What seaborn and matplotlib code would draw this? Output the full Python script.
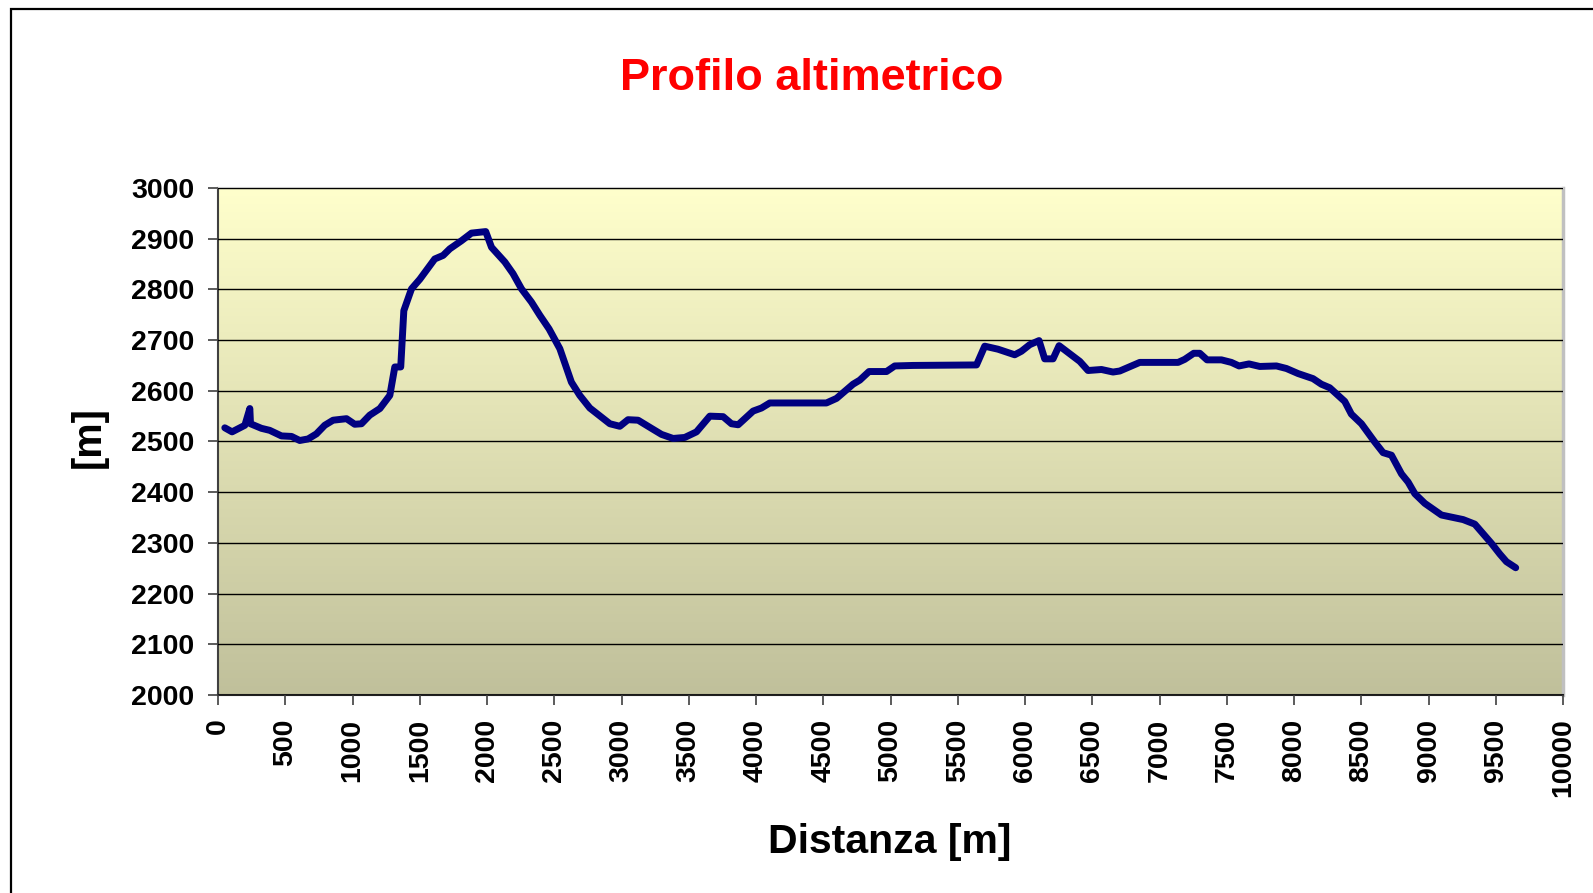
import numpy as np
import pandas as pd
import matplotlib
matplotlib.use("Agg")
import matplotlib.pyplot as plt
import seaborn as sns
from matplotlib.patches import Rectangle

# elevation profile
distanza = [50, 104, 199, 236, 241, 322, 384, 471, 546, 607, 669, 731, 793, 855, 955,
            1016, 1066, 1128, 1203, 1277, 1314, 1358, 1381, 1438, 1500, 1611, 1673, 1723,
            1810, 1884, 1990, 2033, 2132, 2193, 2256, 2330, 2392, 2461, 2541, 2627, 2689,
            2764, 2913, 2987, 3048, 3123, 3222, 3297, 3383, 3470, 3557, 3656, 3755, 3817,
            3867, 3978, 4040, 4102, 4523, 4598, 4721, 4771, 4840, 4970, 5031, 5167, 5639,
            5700, 5799, 5923, 5973, 6035, 6104, 6146, 6208, 6253, 6407, 6468, 6568, 6654,
            6704, 6853, 7138, 7187, 7254, 7299, 7353, 7460, 7534, 7591, 7665, 7745, 7869,
            7943, 8030, 8141, 8203, 8265, 8377, 8426, 8501, 8600, 8662, 8724, 8799, 8848,
            8898, 8972, 9096, 9257, 9344, 9468, 9530, 9579, 9648]
quota = [2527, 2519, 2532, 2565, 2535, 2526, 2522, 2511, 2510, 2502, 2505, 2515, 2532,
         2542, 2545, 2534, 2535, 2552, 2565, 2591, 2647, 2647, 2758, 2801, 2820, 2860,
         2867, 2880, 2896, 2911, 2914, 2883, 2854, 2831, 2801, 2775, 2749, 2722, 2683,
         2617, 2591, 2566, 2535, 2530, 2543, 2542, 2526, 2514, 2506, 2508, 2519, 2550,
         2549, 2535, 2533, 2560, 2566, 2576, 2576, 2585, 2613, 2621, 2638, 2638, 2649,
         2650, 2651, 2688, 2682, 2671, 2678, 2691, 2699, 2663, 2663, 2689, 2658, 2640,
         2642, 2637, 2639, 2656, 2656, 2662, 2674, 2674, 2661, 2661, 2656, 2649, 2653,
         2648, 2649, 2644, 2634, 2624, 2613, 2606, 2579, 2554, 2535, 2499, 2478, 2473,
         2436, 2420, 2397, 2378, 2355, 2346, 2337, 2299, 2278, 2263, 2251]

x_ticks = list(range(0, 10001, 500))
y_ticks = list(range(2000, 3001, 100))

df = pd.DataFrame({"Distanza": distanza, "Quota": quota})

sns.set_style("white")
plt.rcParams["font.family"] = ["Liberation Sans", "DejaVu Sans"]
plt.rcParams["text.color"] = "black"
plt.rcParams["axes.labelcolor"] = "black"
plt.rcParams["xtick.color"] = "black"
plt.rcParams["ytick.color"] = "black"

fig = plt.figure(figsize=(15.93, 8.93), dpi=100)
ax = fig.add_axes([0.1369, 0.2217, 0.8443, 0.5678])

# outer chart frame
fig.patches.append(Rectangle((11 / 1593, -0.05), 1.2, 1 - 9 / 893 + 0.05, transform=fig.transFigure,
                             fill=False, edgecolor="black", linewidth=1.6, zorder=0))

# yellow -> olive gradient background
grad = np.linspace(0, 1, 256).reshape(-1, 1)
cmap = matplotlib.colors.LinearSegmentedColormap.from_list("bg", ["#FFFFCC", "#C0C09B"])
ax.imshow(grad, aspect="auto", cmap=cmap, extent=[0, 1, 0, 1], transform=ax.transAxes, zorder=0)

sns.lineplot(data=df, x="Distanza", y="Quota", ax=ax, color="#000080", linewidth=5,
             estimator=None, sort=False, zorder=3)

ax.set_xlim(0, 10000)
ax.set_ylim(2000, 3000)
ax.set_xticks(x_ticks)
ax.set_yticks(y_ticks)
ax.grid(axis="y", color="black", linewidth=1)
ax.grid(axis="x", visible=False)
ax.set_axisbelow(False)
for gl in ax.get_ygridlines():
    gl.set_zorder(1)

ax.tick_params(axis="both", direction="out", length=7, width=1.2, color="#404040",
               labelcolor="black", labelsize=20.5, bottom=True, left=True)
ax.tick_params(axis="y", pad=10)
ax.tick_params(axis="x", pad=10, labelrotation=90)
for lab in ax.get_xticklabels() + ax.get_yticklabels():
    lab.set_fontweight("bold")

ax.spines["left"].set_color("#404040")
ax.spines["bottom"].set_color("#202020")
ax.spines["top"].set_color("#C8C8C8")
ax.spines["right"].set_color("#C0C0C0")
for s in ax.spines.values():
    s.set_linewidth(1.5)
ax.spines["right"].set_linewidth(2.5)

ax.set_xlabel("Distanza [m]", fontsize=29.5, fontweight="bold", color="black")
ax.set_ylabel("[m]", fontsize=28.5, fontweight="bold", color="black")
ax.xaxis.set_label_coords(0.4996, -0.253)
ax.yaxis.set_label_coords(-0.082, 0.509)

fig.text(811.7 / 1593, 1 - 78.5 / 893, "Profilo altimetrico", color="red", fontsize=32.5,
         fontweight="bold", ha="center", va="center")

fig.savefig("out.png", dpi=100)
